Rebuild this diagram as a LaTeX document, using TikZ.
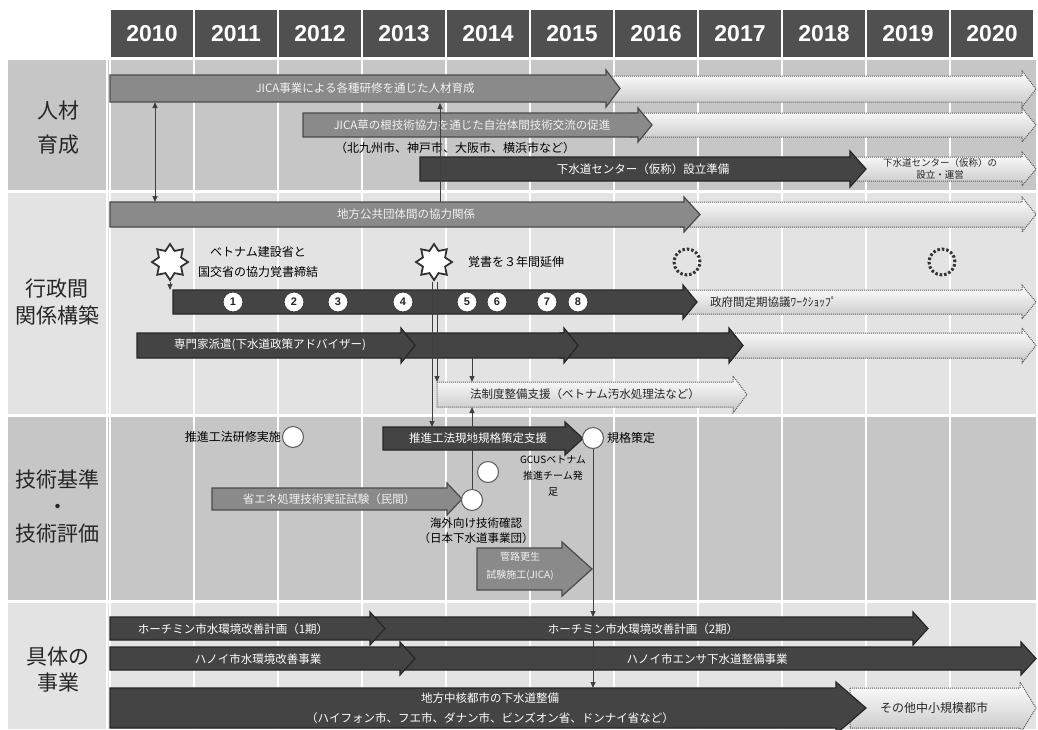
\documentclass[tikz,border=0pt]{standalone}
\usepackage{fontspec}
\setmainfont{Noto Sans CJK JP}
\newfontfamily\yearfont{Liberation Sans}
\usetikzlibrary{shapes.geometric,arrows.meta}
\definecolor{hdr}{HTML}{505050}
\definecolor{rowA}{HTML}{C6C6C6}
\definecolor{rowB}{HTML}{E3E3E3}
\definecolor{darkbar}{HTML}{444444}
\definecolor{darkedge}{HTML}{262626}
\definecolor{midbar}{HTML}{8A8A8A}
\definecolor{midedge}{HTML}{4A4A4A}
% #1 style, #2 x start, #3 tip x, #4 y top, #5 y bottom, #6 head length, #7 head overhang
\newcommand{\barrow}[7]{\path[#1] (#2,#4) -- ({#3-#6},#4) -- ({#3-#6},{#4-#7}) -- (#3,{(#4+#5)/2}) -- ({#3-#6},{#5+#7}) -- ({#3-#6},#5) -- (#2,#5) -- cycle;}
\tikzset{
  darkarrow/.style={fill=darkbar, draw=darkedge, line width=1.2pt},
  midarrow/.style={fill=midbar, draw=midedge, line width=1.2pt},
  lightarrow/.style={top color=white, bottom color=black!22, draw=black!65, densely dotted, line width=1pt},
  bartext/.style={text=white, inner sep=0pt, font=\fontsize{11.5}{13}\selectfont},
  midtext/.style={text=black!5, inner sep=0pt, font=\fontsize{11.5}{13}\selectfont},
  darktext/.style={text=black!85, inner sep=0pt, font=\fontsize{11.5}{13}\selectfont},
  note/.style={text=black, inner sep=0pt, align=center, font=\fontsize{12}{20}\selectfont},
  rowlabel/.style={text=black!85, inner sep=0pt, align=center, font=\fontsize{21}{27}\selectfont},
  yearlbl/.style={text=white, inner sep=0pt, font=\yearfont\bfseries\fontsize{23}{26}\selectfont},
  numc/.style={circle, fill=white, draw=black!75, line width=1pt, inner sep=0pt, minimum size=20pt, text=black!85, font=\yearfont\bfseries\fontsize{11}{12}\selectfont},
  mile/.style={circle, fill=white, draw=black!65, line width=1pt, inner sep=0pt, minimum size=21pt},
  future/.style={circle, draw=black!80, dash pattern=on 2.5pt off 2pt, line width=3pt, inner sep=0pt, minimum size=26pt},
  burst/.style={star, star points=8, star point ratio=1.5, fill=white, draw=black!80, line width=1.8pt, inner sep=0pt, minimum size=36pt},
  conn/.style={draw=black!75, line width=1pt, -{Triangle[length=6pt,width=5pt]}},
  conn2/.style={draw=black!75, line width=1pt, {Triangle[length=6pt,width=5pt]}-{Triangle[length=6pt,width=5pt]}},
}
\begin{document}
\begin{tikzpicture}[x=1pt,y=-1pt]
\useasboundingbox (0,0) rectangle (1038,729);
\fill[white] (0,0) rectangle (1038,729);
% header
\foreach \i/\yr in {0/2010,1/2011,2/2012,3/2013,4/2014,5/2015,6/2016,7/2017,8/2018,9/2019,10/2020}{
  \fill[hdr] ({110+84*\i+1},10) rectangle ({110+84*\i+83},57);
  \node[yearlbl] (y\yr) at ({110+84*\i+42},34) {\yr};
}
% rows
\fill[rowA] (8,60) rectangle (1036,190);
\fill[rowB] (8,193) rectangle (1036,414);
\fill[rowA] (8,417) rectangle (1036,600);
\fill[rowB] (8,603) rectangle (1036,729);
\foreach \i in {0,...,10} \draw[white, line width=2pt] ({110+84*\i},60) -- ({110+84*\i},729);
\draw[white, line width=2pt] (107,60) -- (107,729);
% row labels
\node[rowlabel, font=\fontsize{21}{34}\selectfont] (l1) at (58,128) {人材\\育成};
\node[rowlabel] (l2) at (57,302) {行政間\\関係構築};
\node[rowlabel] (l3) at (58,506) {技術基準\\・\\技術評価};
\node[rowlabel, font=\fontsize{21}{26}\selectfont] (l4) at (58,670) {具体の\\事業};

% ---------- row 1
\barrow{lightarrow}{600}{1036}{76}{102}{14}{5}
\barrow{midarrow}{110}{620}{75}{102}{14}{5}
\node[midtext] (tA) at (365,88) {JICA事業による各種研修を通じた人材育成};
\barrow{lightarrow}{630}{1036}{113}{137}{14}{5}
\barrow{midarrow}{303}{652}{113}{137}{14}{5}
\node[midtext] (tB) at (472,125) {JICA草の根技術協力を通じた自治体間技術交流の促進};
\node[note] (tB2) at (455,148) {（北九州市、神戸市、大阪市、横浜市など）};
\barrow{lightarrow}{850}{1036}{157}{181}{14}{5}
\barrow{darkarrow}{420}{866}{157}{181}{16}{6}
\node[bartext] (tC) at (643,169) {下水道センター（仮称）設立準備};
\node[darktext, align=center, font=\fontsize{9.5}{12}\selectfont] (tC2) at (940,169) {下水道センター（仮称）の\\設立・運営};

% ---------- row 2
\barrow{lightarrow}{680}{1036}{202}{227}{14}{5}
\barrow{midarrow}{110}{700}{202}{227}{16}{5}
\node[midtext] (tD) at (406,214) {地方公共団体間の協力関係};
\barrow{lightarrow}{680}{1036}{290}{314}{14}{5}
\barrow{darkarrow}{173}{697}{290}{314}{14}{5}
\node[darktext, anchor=west] (tE2) at (710,302) {政府間定期協議ﾜｰｸｼｮｯﾌﾟ};
\barrow{lightarrow}{725}{1036}{333}{358}{14}{5}
\barrow{darkarrow}{560}{743}{333}{358}{14}{5}
\barrow{darkarrow}{400}{578}{333}{358}{14}{5}
\barrow{darkarrow}{137}{415}{333}{358}{14}{5}
\node[bartext] (tF) at (270,345) {専門家派遣(下水道政策アドバイザー)};
\barrow{lightarrow}{437}{747}{382}{407}{14}{6}
\node[darktext] (tG) at (585,394) {法制度整備支援（ベトナム汚水処理法など）};

% ---------- row 3
\barrow{darkarrow}{383}{583}{427}{450}{18}{5}
\node[bartext] (tH) at (478,438) {推進工法現地規格策定支援};
\barrow{midarrow}{212}{462}{488}{510}{15}{5}
\node[midtext] (tI) at (329,499) {省エネ処理技術実証試験（民間）};
\barrow{midarrow}{477}{592}{548}{590}{30}{6}
\node[midtext, align=center, font=\fontsize{10}{18}\selectfont] (tJ) at (520,566) {管路更生\\試験施工(JICA)};

% ---------- row 4
\barrow{darkarrow}{370}{928}{617}{640}{15}{5}
\barrow{darkarrow}{110}{385}{617}{640}{15}{5}
\node[bartext] (tK1) at (233,629) {ホーチミン市水環境改善計画（1期）};
\node[bartext] (tK2) at (643,629) {ホーチミン市水環境改善計画（2期）};
\barrow{darkarrow}{400}{1036}{647}{670}{15}{5}
\barrow{darkarrow}{110}{415}{647}{670}{15}{5}
\node[bartext] (tL1) at (258,659) {ハノイ市水環境改善事業};
\node[bartext] (tL2) at (707,659) {ハノイ市エンサ下水道整備事業};
\barrow{lightarrow}{850}{1036}{688}{728}{16}{6}
\barrow{darkarrow}{110}{866}{688}{728}{30}{6}
\node[bartext, align=center, font=\fontsize{11.5}{20}\selectfont] (tM) at (490,708) {地方中核都市の下水道整備\\（ハイフォン市、フエ市、ダナン市、ビンズオン省、ドンナイ省など）};
\node[darktext, font=\fontsize{12}{14}\selectfont] (tM2) at (934,708) {その他中小規模都市};

% ---------- markers
\node[burst] (s1) at (170,262) {};
\node[burst] (s2) at (434,262) {};
\node[note] (ts1) at (258,262) {ベトナム建設省と\\国交省の協力覚書締結};
\node[note, anchor=west] (ts2) at (468,262) {覚書を３年間延伸};
\node[future] (f1) at (687,262) {};
\node[future] (f2) at (942,262) {};
\foreach \n/\x in {1/233,2/294,3/338,4/403,5/467,6/497,7/547,8/578}
  \node[numc] (n\n) at (\x,302) {\n};
\node[mile] (m1) at (293,437) {};
\node[note, anchor=east] (tm1) at (281,437) {推進工法研修実施};
\node[mile] (m2) at (593,438) {};
\node[note, anchor=west] (tm2) at (607,438) {規格策定};
\node[mile] (m3) at (488,472) {};
\node[note, font=\fontsize{10}{16}\selectfont] (tm3) at (553,476) {GCUSベトナム\\推進チーム発\\足};
\node[mile] (m4) at (472,500) {};
\node[note, font=\fontsize{11.5}{15}\selectfont] (tm4) at (476,531) {海外向け技術確認\\（日本下水道事業団）};

% ---------- connectors
\coordinate (cA1) at (155,102);
\coordinate (cD1) at (155,202);
\draw[conn2] (cA1) -- (cD1);
\coordinate (cA2) at (440,103);
\coordinate (cD2) at (440,202);
\draw[conn] (cD2) -- (cA2);
\coordinate (cE) at (170,290);
\draw[conn] (s1.south) -- (cE);
\coordinate (cG1) at (437,382);
\coordinate (cH1) at (432,427);
\draw[conn] (s2.south -| cG1) -- (cG1);
\draw[conn] (s2.south -| cH1) -- (cH1);
\coordinate (cF) at (472,358);
\coordinate (cG2) at (472,382);
\draw[conn] (cF) -- (cG2);
\coordinate (cG3) at (472,407);
\draw[conn] (m4.north) -- (cG3);
\coordinate (cK) at (593,617);
\coordinate (cL) at (593,670);
\coordinate (cM) at (593,688);
\draw[conn] (m2.south) -- (cK);
\draw[draw=black!75, line width=1pt] (cK) -- (cL);
\draw[conn] (cL) -- (cM);
\end{tikzpicture}
\end{document}
